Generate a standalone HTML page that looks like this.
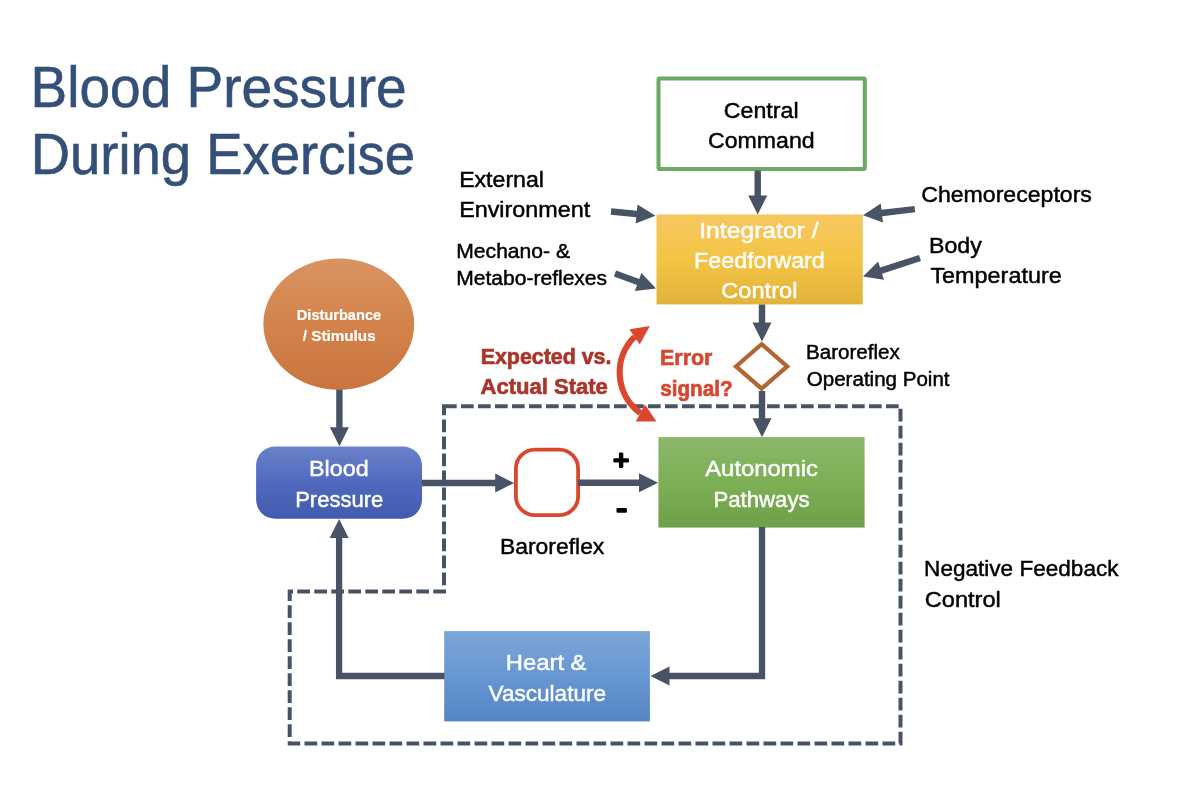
<!DOCTYPE html>
<html><head><meta charset="utf-8"><title>Blood Pressure During Exercise</title>
<style>html,body{margin:0;padding:0;background:#fff;width:1196px;height:812px;overflow:hidden}
svg{position:absolute;left:0;top:0;font-family:"Liberation Sans",sans-serif;will-change:transform}</style></head>
<body><svg width="1196" height="812" viewBox="0 0 1196 812">
<defs>
<linearGradient id="gY" x1="0" y1="0" x2="0" y2="1"><stop offset="0" stop-color="#f6c862"/><stop offset="0.5" stop-color="#f4c444"/><stop offset="1" stop-color="#e1b33b"/></linearGradient>
<linearGradient id="gG" x1="0" y1="0" x2="0" y2="1"><stop offset="0" stop-color="#8bb76b"/><stop offset="0.5" stop-color="#7daf55"/><stop offset="1" stop-color="#6ea049"/></linearGradient>
<linearGradient id="gB" x1="0" y1="0" x2="0" y2="1"><stop offset="0" stop-color="#7da6d8"/><stop offset="0.5" stop-color="#6697d3"/><stop offset="1" stop-color="#5585c4"/></linearGradient>
<linearGradient id="gBP" x1="0" y1="0" x2="0" y2="1"><stop offset="0" stop-color="#6a82c9"/><stop offset="0.5" stop-color="#5169bd"/><stop offset="1" stop-color="#425bae"/></linearGradient>
<linearGradient id="gO" x1="0" y1="0" x2="0" y2="1"><stop offset="0" stop-color="#d99462"/><stop offset="0.5" stop-color="#d3834b"/><stop offset="1" stop-color="#c9743e"/></linearGradient>
</defs>
<path d="M444 406.3 H900.5 V743.5 H289.7 V591.6 H444 Z" fill="none" stroke="#495366" stroke-width="4" stroke-dasharray="12.7 4.3" stroke-linejoin="miter"/>
<rect x="658.5" y="78.6" width="206.3" height="90.3" fill="#fff" stroke="#6aaa64" stroke-width="4" rx="1"/>
<rect x="656.5" y="214.4" width="206.3" height="90" fill="url(#gY)"/>
<rect x="658.4" y="437.1" width="206.2" height="90.5" fill="url(#gG)"/>
<rect x="444.2" y="631.1" width="205.7" height="90.3" fill="url(#gB)"/>
<rect x="256.1" y="446.5" width="165.9" height="72.2" rx="19" fill="url(#gBP)"/>
<ellipse cx="338.8" cy="324.1" rx="75.4" ry="65.6" fill="url(#gO)"/>
<rect x="515.9" y="449.6" width="62.2" height="65.6" rx="19" fill="#fff" stroke="#d9472f" stroke-width="3.8"/>
<polygon points="761.6,344.2 787.2,366.4 761.6,388.6 736,366.4" fill="#fff" stroke="#b2662f" stroke-width="4.2" stroke-linejoin="miter"/>
<polygon points="754.5,170.5 754.5,195.6 748.2,195.6 757.7,214.6 767.2,195.6 760.9,195.6 760.9,170.5" fill="#495366"/>
<polygon points="758.8,304.4 758.8,322.4 752.5,322.4 762,341.4 771.5,322.4 765.2,322.4 765.2,304.4" fill="#495366"/>
<polygon points="758.8,391 758.8,418.2 752.5,418.2 762,437.2 771.5,418.2 765.2,418.2 765.2,391" fill="#495366"/>
<polygon points="610.69,214.69 636.28,217.16 635.67,223.43 655.5,215.8 637.5,204.52 636.9,210.79 611.31,208.31" fill="#495366"/>
<polygon points="613.9,276.51 637.06,284.98 634.89,290.89 656,288.5 641.42,273.05 639.26,278.97 616.1,270.49" fill="#495366"/>
<polygon points="914.43,205.92 881.5,209.8 880.76,203.54 863,215.2 882.98,222.41 882.24,216.16 915.17,212.28" fill="#495366"/>
<polygon points="919.01,254.96 880.08,267.59 878.14,261.6 863,276.5 884,279.67 882.06,273.68 920.99,261.04" fill="#495366"/>
<polygon points="336.2,389.5 336.2,427.2 329.9,427.2 339.4,446.2 348.9,427.2 342.6,427.2 342.6,389.5" fill="#495366"/>
<polygon points="422,486.2 495.2,486.2 495.2,492.5 514.2,483 495.2,473.5 495.2,479.8 422,479.8" fill="#495366"/>
<polygon points="578,486 639,486 639,492.3 658,482.8 639,473.3 639,479.6 578,479.6" fill="#495366"/>
<path d="M762 527 V676 H668" fill="none" stroke="#495366" stroke-width="6.3" stroke-linejoin="miter"/>
<polygon points="669.5,666.5 650.5,676 669.5,685.5" fill="#495366"/>
<path d="M444.5 676 H339.1 V536" fill="none" stroke="#495366" stroke-width="6.3" stroke-linejoin="miter"/>
<polygon points="348.6,538 339.1,519 329.6,538" fill="#495366"/>
<rect x="613.3" y="458.2" width="15.7" height="4.4" rx="1.3" fill="#000"/>
<rect x="618.9" y="452.5" width="4.4" height="15.6" rx="1.3" fill="#000"/>
<rect x="616.5" y="508" width="10.4" height="4.7" rx="1.3" fill="#000"/>
<path d="M634.5 336.9 A50 50 0 0 0 640.4 413" fill="none" stroke="#d9472f" stroke-width="6.2"/>
<polygon points="649.9,326 629.3,329.2 639.7,344.5" fill="#d9472f"/>
<polygon points="656.4,421.5 635.7,421.5 645,404.5" fill="#d9472f"/>
<text transform="translate(30.6 106.9) scale(0.9703 1)" font-size="56.69" font-weight="400" fill="#344f78" stroke="#344f78" stroke-width="0.6">Blood Pressure</text>
<text transform="translate(30.64 173.9) scale(0.9609 1)" font-size="56.69" font-weight="400" fill="#344f78" stroke="#344f78" stroke-width="0.6">During Exercise</text>
<text transform="translate(723.84 118) scale(1.0425 1)" font-size="22.24" font-weight="400" fill="#000000" stroke="#000000" stroke-width="0.45">Central</text>
<text transform="translate(708.04 148) scale(1.0392 1)" font-size="22.24" font-weight="400" fill="#000000" stroke="#000000" stroke-width="0.45">Command</text>
<text transform="translate(699.18 238.2) scale(1.1114 1)" font-size="22.24" font-weight="400" fill="#ffffff" stroke="#ffffff" stroke-width="0.45">Integrator /</text>
<text transform="translate(694.04 268.3) scale(1.0481 1)" font-size="22.24" font-weight="400" fill="#ffffff" stroke="#ffffff" stroke-width="0.45">Feedforward</text>
<text transform="translate(721.32 298.3) scale(1.0613 1)" font-size="22.24" font-weight="400" fill="#ffffff" stroke="#ffffff" stroke-width="0.45">Control</text>
<text transform="translate(459.15 186.9) scale(1.0395 1)" font-size="22.24" font-weight="400" fill="#000000" stroke="#000000" stroke-width="0.45">External</text>
<text transform="translate(459.13 217) scale(1.0506 1)" font-size="22.24" font-weight="400" fill="#000000" stroke="#000000" stroke-width="0.45">Environment</text>
<text transform="translate(456.31 257.8) scale(1.0912 1)" font-size="19.33" font-weight="400" fill="#000000" stroke="#000000" stroke-width="0.45">Mechano- &amp;</text>
<text transform="translate(456.32 284.7) scale(1.0888 1)" font-size="19.33" font-weight="400" fill="#000000" stroke="#000000" stroke-width="0.45">Metabo-reflexes</text>
<text transform="translate(921.24 202) scale(1.0527 1)" font-size="21.95" font-weight="400" fill="#000000" stroke="#000000" stroke-width="0.45">Chemoreceptors</text>
<text transform="translate(929.05 252.7) scale(1.0542 1)" font-size="21.95" font-weight="400" fill="#000000" stroke="#000000" stroke-width="0.45">Body</text>
<text transform="translate(930.43 283.3) scale(1.0656 1)" font-size="21.95" font-weight="400" fill="#000000" stroke="#000000" stroke-width="0.45">Temperature</text>
<text transform="translate(296.82 319.9) scale(0.9468 1)" font-size="15.41" font-weight="700" fill="#ffffff" stroke="#ffffff" stroke-width="0.2">Disturbance</text>
<text transform="translate(302.85 340.6) scale(0.9894 1)" font-size="15.41" font-weight="700" fill="#ffffff" stroke="#ffffff" stroke-width="0.2">/ Stimulus</text>
<text transform="translate(309.04 476.1) scale(1.0480 1)" font-size="22.24" font-weight="400" fill="#ffffff" stroke="#ffffff" stroke-width="0.45">Blood</text>
<text transform="translate(295.14 507.3) scale(0.9909 1)" font-size="22.24" font-weight="400" fill="#ffffff" stroke="#ffffff" stroke-width="0.45">Pressure</text>
<text transform="translate(499.97 554.1) scale(1.0301 1)" font-size="22.24" font-weight="400" fill="#000000" stroke="#000000" stroke-width="0.45">Baroreflex</text>
<text transform="translate(705.2 476.1) scale(1.0735 1)" font-size="22.24" font-weight="400" fill="#ffffff" stroke="#ffffff" stroke-width="0.45">Autonomic</text>
<text transform="translate(713.42 506.7) scale(0.9984 1)" font-size="22.24" font-weight="400" fill="#ffffff" stroke="#ffffff" stroke-width="0.45">Pathways</text>
<text transform="translate(505.79 669.6) scale(1.0710 1)" font-size="22.24" font-weight="400" fill="#ffffff" stroke="#ffffff" stroke-width="0.45">Heart &amp;</text>
<text transform="translate(488.5 700.5) scale(1.0159 1)" font-size="22.24" font-weight="400" fill="#ffffff" stroke="#ffffff" stroke-width="0.45">Vasculature</text>
<text transform="translate(480.72 364) scale(0.9562 1)" font-size="22.38" font-weight="700" fill="#a9352b" stroke="#a9352b" stroke-width="0.65">Expected vs.</text>
<text transform="translate(480.46 393.8) scale(0.9855 1)" font-size="22.38" font-weight="700" fill="#a9352b" stroke="#a9352b" stroke-width="0.65">Actual State</text>
<text transform="translate(660.12 365) scale(0.9601 1)" font-size="22.24" font-weight="700" fill="#d8462f" stroke="#d8462f" stroke-width="0.65">Error</text>
<text transform="translate(660.18 395.6) scale(0.9296 1)" font-size="22.24" font-weight="700" fill="#d8462f" stroke="#d8462f" stroke-width="0.65">signal?</text>
<text transform="translate(805.95 358.8) scale(1.0423 1)" font-size="19.77" font-weight="400" fill="#000000" stroke="#000000" stroke-width="0.45">Baroreflex</text>
<text transform="translate(806.78 385.8) scale(1.0396 1)" font-size="19.77" font-weight="400" fill="#000000" stroke="#000000" stroke-width="0.45">Operating Point</text>
<text transform="translate(924.09 576) scale(1.0286 1)" font-size="21.95" font-weight="400" fill="#000000" stroke="#000000" stroke-width="0.45">Negative Feedback</text>
<text transform="translate(924.72 606.5) scale(1.0753 1)" font-size="21.95" font-weight="400" fill="#000000" stroke="#000000" stroke-width="0.45">Control</text>
</svg></body></html>
